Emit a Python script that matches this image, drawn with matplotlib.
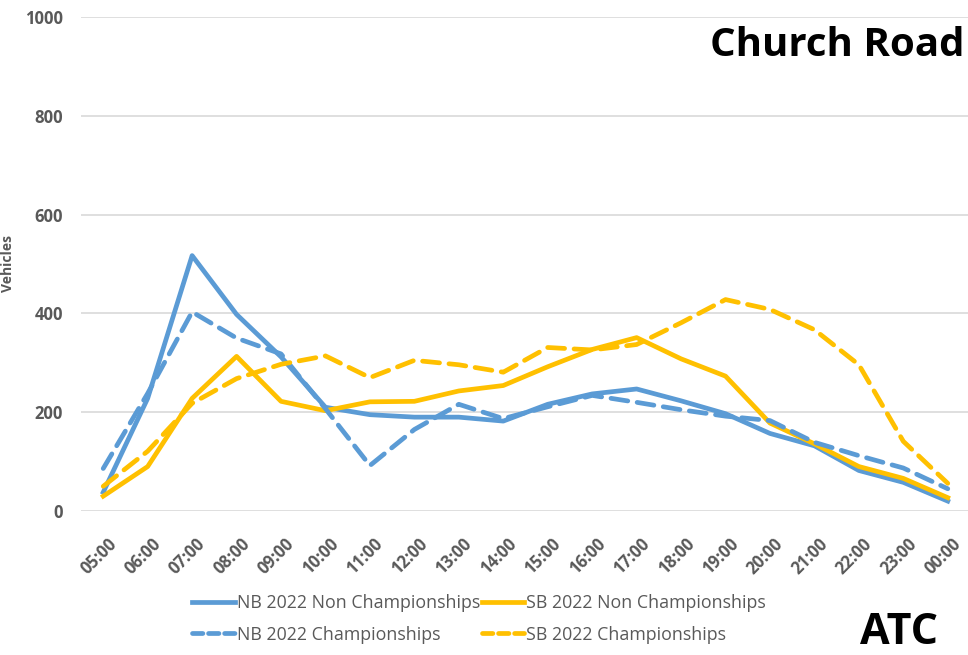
import matplotlib
matplotlib.use("Agg")
import matplotlib.pyplot as plt
import matplotlib.transforms as mtransforms
from matplotlib.lines import Line2D

plt.rcParams['font.family'] = ['Open Sans', 'DejaVu Sans']

hours = ['05:00', '06:00', '07:00', '08:00', '09:00', '10:00', '11:00', '12:00',
         '13:00', '14:00', '15:00', '16:00', '17:00', '18:00', '19:00', '20:00',
         '21:00', '22:00', '23:00', '00:00']

nb_non = [38, 228, 517, 398, 312, 210, 195, 190, 190, 182, 216, 237, 247, 223,
          197, 157, 132, 82, 58, 20]
sb_non = [30, 90, 228, 313, 222, 203, 221, 222, 243, 254, 292, 327, 351, 308,
          273, 178, 136, 90, 66, 27]
nb_ch = [86, 238, 403, 350, 318, 207, 92, 165, 216, 187, 211, 234, 220, 205,
         192, 183, 139, 112, 87, 45]
sb_ch = [50, 121, 218, 268, 297, 314, 270, 305, 296, 281, 331, 326, 337, 381,
         428, 408, 367, 296, 141, 56]

blue = '#5B9BD5'
gold = '#FFC000'
grey = '#595959'

fig = plt.figure(figsize=(9.68, 6.55), dpi=100)
ax = fig.add_axes([81 / 968, 1 - 511 / 655, 889 / 968, 494 / 655])

x = list(range(len(hours)))
lw = 3.4
dash = (3.6, 2.0)
ax.plot(x, nb_non, color=blue, lw=lw, solid_joinstyle='round', zorder=3)
ax.plot(x, sb_non, color=gold, lw=lw, solid_joinstyle='round', zorder=3)
ax.plot(x, nb_ch, color=blue, lw=lw, dashes=dash, dash_capstyle='round', zorder=3)
ax.plot(x, sb_ch, color=gold, lw=lw, dashes=dash, dash_capstyle='round', zorder=3)

ax.set_xlim(-0.5, len(hours) - 0.5)
ax.set_ylim(0, 1000)
ax.set_yticks([0, 200, 400, 600, 800, 1000])
ax.set_xticks(x)
ax.set_xticklabels(hours, rotation=45, ha='right', rotation_mode='anchor')
ax.grid(axis='y', color='#D9D9D9', lw=1.2)
ax.set_axisbelow(True)
for s in ax.spines.values():
    s.set_visible(False)
ax.tick_params(length=0, colors=grey, labelsize=12)
ax.tick_params(axis='x', pad=17)
ax.tick_params(axis='y', pad=13)
shift = mtransforms.ScaledTranslation(4 / 100, 0, fig.dpi_scale_trans)
for t in ax.get_xticklabels():
    t.set_fontweight('bold')
    t.set_transform(t.get_transform() + shift)
for t in ax.get_yticklabels():
    t.set_fontweight('bold')

fig.text(0.001, 1 - 263 / 655, 'Vehicles', rotation=90, va='center', ha='left',
         color=grey, fontsize=10, fontweight='bold')

fig.text(964 / 968, 1 - 45 / 655, 'Church Road', ha='right', va='center',
         fontsize=29, fontweight='bold', color='black')
fig.text(899 / 968, 1 - 633 / 655, 'ATC', ha='center', va='center',
         fontsize=31, fontweight='bold', color='black')

handles = [Line2D([], [], color=blue, lw=lw),
           Line2D([], [], color=blue, lw=lw, dashes=(2.2, 1.2), dash_capstyle='round'),
           Line2D([], [], color=gold, lw=lw),
           Line2D([], [], color=gold, lw=lw, dashes=(2.2, 1.2), dash_capstyle='round')]
labels = ['NB 2022 Non Championships', 'NB 2022 Championships',
          'SB 2022 Non Championships', 'SB 2022 Championships']
leg = fig.legend(handles, labels, ncol=2, loc='center', bbox_to_anchor=(479 / 968, 1 - 619 / 655),
                 frameon=False, fontsize=12.8, handlelength=2.4, handletextpad=0.1,
                 columnspacing=0.1, labelspacing=0.75, labelcolor=grey)

fig.savefig('out.png', dpi=100)
